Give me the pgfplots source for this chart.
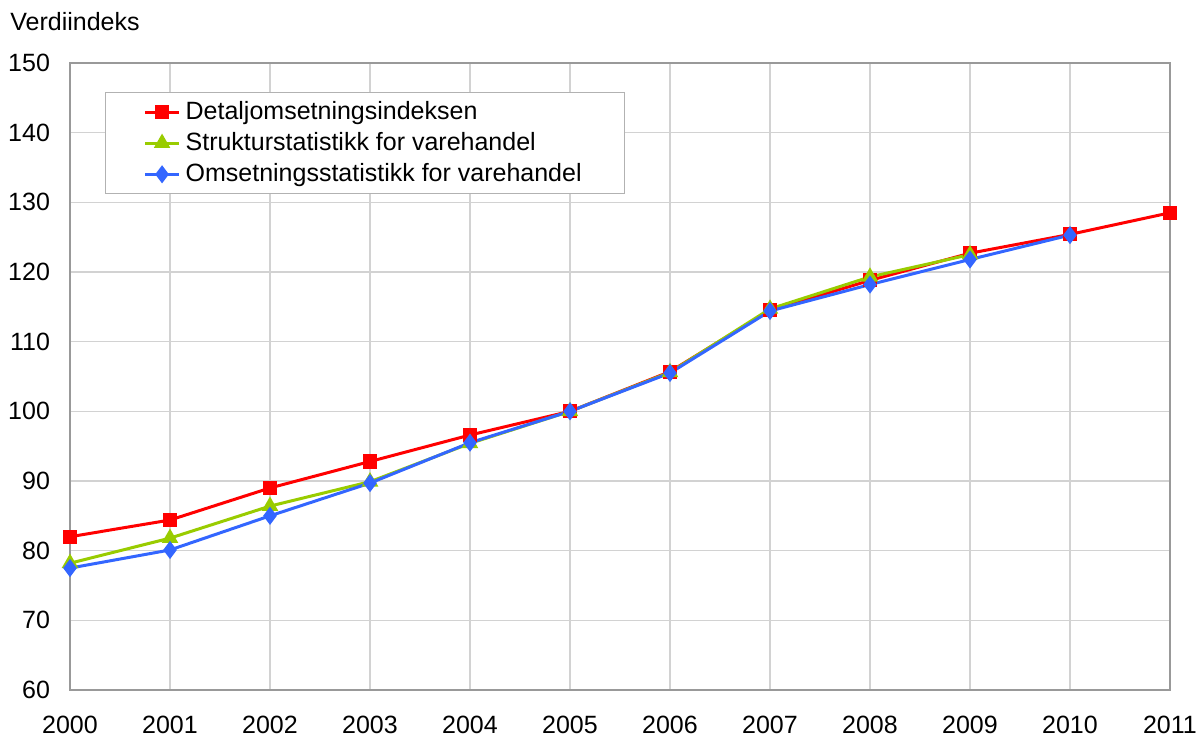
\documentclass[border=0pt]{standalone}
\usepackage{pgfplots}
\pgfplotsset{compat=1.18}
\usepackage{fontspec}
\setmainfont{Liberation Sans}
\definecolor{serred}{RGB}{255,0,0}
\definecolor{sergreen}{RGB}{153,204,0}
\definecolor{serblue}{RGB}{51,102,255}
\definecolor{gridgray}{RGB}{210,210,210}
\begin{document}
\begin{tikzpicture}[font=\fontsize{12.5}{15}\selectfont]
\path[use as bounding box] (-35pt,-23pt) rectangle (564pt,345pt);
\begin{axis}[
  name=main,
  at={(0pt,0pt)}, anchor=south west,
  width=550pt, height=313.5pt, scale only axis,
  xmin=2000, xmax=2011, ymin=60, ymax=150,
  xtick={2000,...,2011}, ytick={60,70,...,150},
  /pgf/number format/1000 sep={},
  /pgf/number format/assume math mode=true,
  major tick length=0pt,
  grid=major, grid style={gridgray, line width=0.6pt},
  axis line style={gray!80, line width=0.8pt},
  xticklabel style={yshift=-9.5pt},
  yticklabel style={xshift=-6.5pt},
  legend style={at={(rel axis cs:0,1)}, anchor=north west,
    xshift=17.5pt, yshift=-14.5pt, draw=gray!60, line width=0.5pt,
    inner xsep=19pt, inner ysep=2pt, row sep=0pt,
    font=\fontsize{12.5}{15}\selectfont,
    nodes={inner sep=2.5pt}},
  legend cell align=left,
  every axis plot/.append style={line width=1.5pt},
]
\addplot[serred, mark=square*, mark size=2.8pt, mark options={solid}] coordinates {
  (2000,82.0) (2001,84.4) (2002,89.0) (2003,92.8) (2004,96.6) (2005,100.0)
  (2006,105.7) (2007,114.5) (2008,118.8) (2009,122.7) (2010,125.4) (2011,128.5)
};
\addplot[sergreen, mark=triangle*, mark size=3.3pt, mark options={solid}] coordinates {
  (2000,78.2) (2001,81.8) (2002,86.4) (2003,89.9) (2004,95.4) (2005,100.0)
  (2006,105.6) (2007,114.7) (2008,119.3) (2009,122.5)
};
\addplot[serblue, mark=diamond*, mark size=3.3pt, mark options={solid}] coordinates {
  (2000,77.5) (2001,80.1) (2002,85.0) (2003,89.7) (2004,95.5) (2005,100.0)
  (2006,105.5) (2007,114.4) (2008,118.2) (2009,121.8) (2010,125.3)
};
\legend{Detaljomsetningsindeksen, Strukturstatistikk for varehandel, Omsetningsstatistikk for varehandel}
\end{axis}
\node[anchor=west, inner sep=0pt] at (main.north west) [xshift=-30pt, yshift=20.5pt] {Verdiindeks};
\end{tikzpicture}
\end{document}
